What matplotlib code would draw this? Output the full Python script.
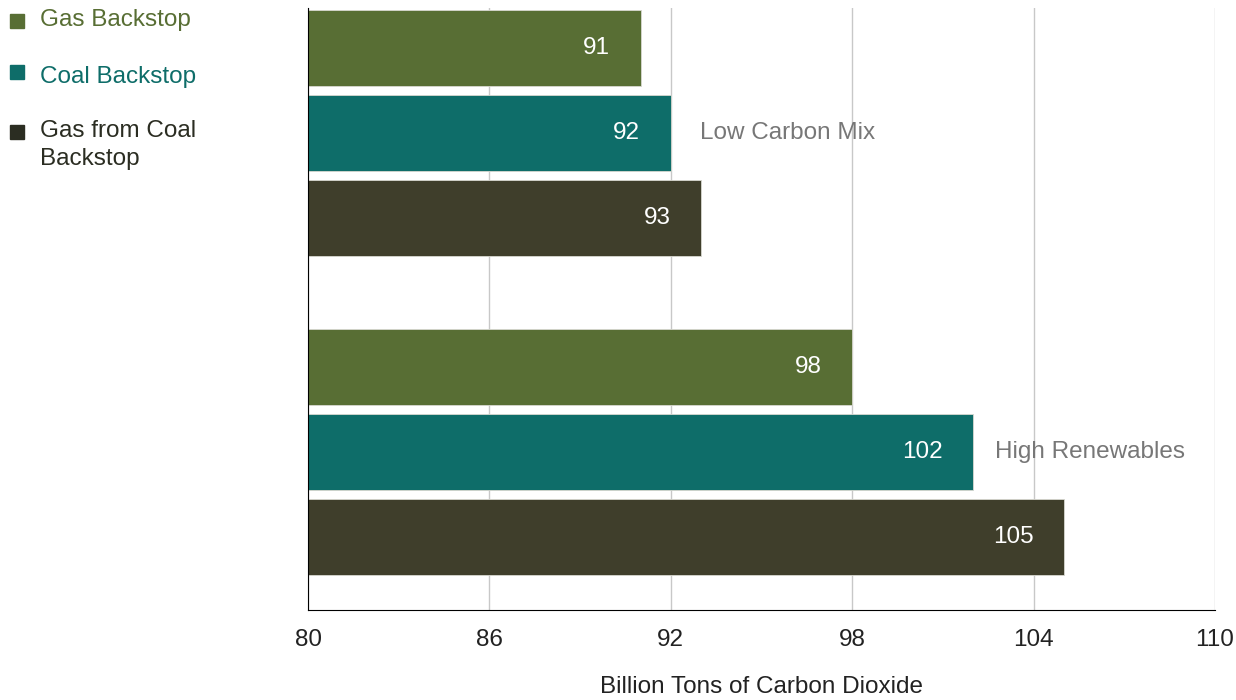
import numpy as np
import matplotlib.pyplot as plt
from matplotlib.patches import Rectangle

plt.rcParams['font.family'] = ['Liberation Sans', 'DejaVu Sans']

scenarios = ['Low Carbon Mix', 'High Renewables']
series = ['Gas Backstop', 'Coal Backstop', 'Gas from Coal\nBackstop']
gas = [91, 98]
coal = [92, 102]
gas_from_coal = [93, 105]
ticks = [80, 86, 92, 98, 104, 110]

colors = ['#586e34', '#0e6d69', '#3f3e2b']
legend_colors = ['#586e34', '#0e6d69', '#2b2d22']
text_colors = ['#586e34', '#0e6d69', '#2b2d22']
fs = 17.5

fig = plt.figure(figsize=(12.36, 7), dpi=100)
ax = fig.add_axes([308/1236, 1 - 610/700, (1215-308)/1236, (610-8)/700])

values = [gas, coal, gas_from_coal]
group_start = [0, 3.75]
for g in range(len(scenarios)):
    for s in range(3):
        y = group_start[g] + s
        v = values[s][g]
        ax.barh(y, v - 80, left=80, height=0.894, color=colors[s],
                edgecolor='#d8d8d0', linewidth=0.6, zorder=2)
        ax.annotate(str(v), (v, y), xytext=(-22, 0), textcoords='offset points',
                    ha='right', va='center', color='white', fontsize=fs, zorder=4)

# scenario labels next to the middle bar of each group
label_x = [92.97, 102.73]
for g, name in enumerate(scenarios):
    ax.text(label_x[g], group_start[g] + 1, name, ha='left', va='center',
            color='#777777', fontsize=fs, zorder=1)

ax.set_xlim(80, 110)
ax.set_ylim(5.75 + 0.86, -0.47)
ax.set_xticks(ticks)
ax.set_xticklabels([str(t) for t in ticks], fontsize=fs, color='#222222')
ax.set_yticks([])
ax.tick_params(axis='x', length=0, pad=14)
ax.grid(axis='x', color='#c8c8c8', linewidth=1.0, zorder=0)
ax.set_axisbelow(True)
for side in ['top', 'right']:
    ax.spines[side].set_visible(False)
ax.spines['left'].set_color('black')
ax.spines['bottom'].set_color('black')
ax.spines['left'].set_zorder(5)
ax.spines['bottom'].set_zorder(5)
ax.set_xlabel('Billion Tons of Carbon Dioxide', fontsize=fs, color='#222222', labelpad=18)

# manual legend at the top left
square_y = [21, 72, 132]
text_y = [20, 77, 145]
for i in range(3):
    fig.add_artist(Rectangle((10/1236, 1 - (square_y[i] + 7)/700), 14/1236, 14/700,
                             transform=fig.transFigure, color=legend_colors[i]))
    fig.text(40/1236, 1 - text_y[i]/700, series[i], ha='left', va='center',
             fontsize=fs, color=text_colors[i], linespacing=1.4)

fig.savefig('out.png', dpi=100)
